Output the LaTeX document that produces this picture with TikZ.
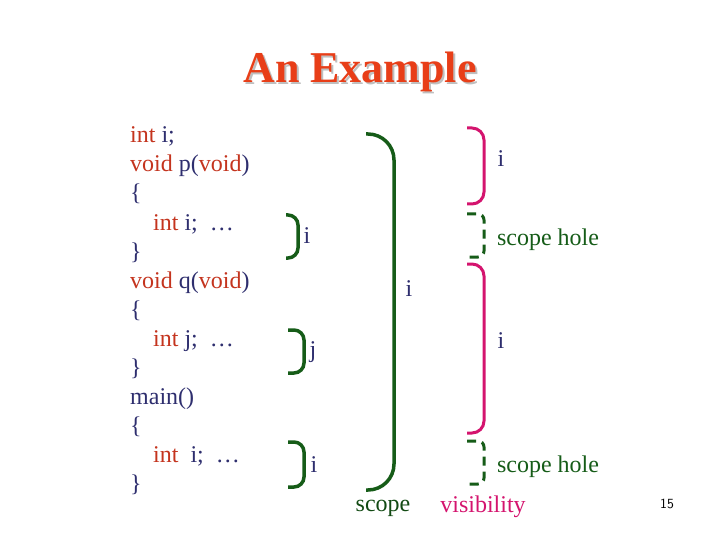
\documentclass[tikz,border=0pt]{standalone}
\usepackage{fontspec}
\setmainfont{Liberation Serif}
\usetikzlibrary{positioning}
\definecolor{titlered}{RGB}{232,62,24}
\definecolor{kwred}{RGB}{196,52,30}
\definecolor{idblue}{RGB}{46,46,110}
\definecolor{scopegreen}{RGB}{22,92,24}
\definecolor{vismagenta}{RGB}{212,20,110}

\begin{document}
\begin{tikzpicture}[
    x=1pt, y=-1pt,
    code/.style = {anchor=base west, inner sep=0pt, text=idblue, font=\fontsize{24}{29}\selectfont},
    lbl/.style = {inner sep=0pt, text=idblue, font=\fontsize{24}{29}\selectfont},
    scopeline/.style = {draw=scopegreen, line width=3.5pt},
    holeline/.style = {draw=scopegreen, line width=3pt, dash pattern=on 9pt off 6pt},
    visline/.style = {draw=vismagenta, line width=3pt, rounded corners=12pt}
  ]
    \useasboundingbox (0,0) rectangle (720,540);

    % title, shadow drawn in the same node
    \node[anchor=base, text=titlered, font=\bfseries\fontsize{44}{50}\selectfont] (title) at (360,83)
      {\rlap{\kern2pt\raisebox{-2pt}{\textcolor{black!25}{An Example}}}An Example};

    % the program
    \node[code] (c1) at (130,143) {\textcolor{kwred}{int} i;};
    \node[code] (c2) at (130,172) {\textcolor{kwred}{void} p(\textcolor{kwred}{void})};
    \node[code] (c3) at (130,201) {\{};
    \node[code] (c4) at (153,230) {\textcolor{kwred}{int} i;\ \ \ldots};
    \node[code] (c5) at (130,259) {\}};
    \node[code] (c6) at (130,288) {\textcolor{kwred}{void} q(\textcolor{kwred}{void})};
    \node[code] (c7) at (130,317) {\{};
    \node[code] (c8) at (153,346) {\textcolor{kwred}{int} j;\ \ \ldots};
    \node[code] (c9) at (130,375) {\}};
    \node[code] (c10) at (130,404) {main()};
    \node[code] (c11) at (130,433) {\{};
    \node[code] (c12) at (153,462) {\textcolor{kwred}{int}\ \ i;\ \ \ldots};
    \node[code] (c13) at (130,491) {\}};

    % scope brackets
    \coordinate (sp-top) at (286,215);
    \coordinate (sp-bot) at (286,258);
    \coordinate (sq-top) at (288,330);
    \coordinate (sq-bot) at (288,373);
    \coordinate (sm-top) at (288,442);
    \coordinate (sm-bot) at (288,487);
    \coordinate (sg-top) at (366,134);
    \coordinate (sg-bot) at (366,490);

    \draw[scopeline, rounded corners=10pt] (sp-top) -- ++(12,0) |- (sp-bot);
    \draw[scopeline, rounded corners=10pt] (sq-top) -- ++(16,0) |- (sq-bot);
    \draw[scopeline, rounded corners=10pt] (sm-top) -- ++(16,0) |- (sm-bot);
    \draw[scopeline, rounded corners=26pt] (sg-top) -- ++(28,0) |- (sg-bot);

    \node[lbl] (ip) at (307,236) {i};
    \node[lbl] (jq) at (313,352) {j};
    \node[lbl] (im) at (314,465) {i};
    \node[lbl] (ig) at (409,289) {i};
    \node[lbl, text=scopegreen!80!black] (scope) at (383,508) {scope};

    % visibility brackets and holes
    \coordinate (v1-top) at (467,128);
    \coordinate (v1-bot) at (467,204);
    \coordinate (h1-top) at (467,214);
    \coordinate (h1-bot) at (467,257);
    \coordinate (v2-top) at (467,264);
    \coordinate (v2-bot) at (467,433);
    \coordinate (h2-top) at (467,441);
    \coordinate (h2-bot) at (467,484);

    \draw[visline] (v1-top) -- ++(17,0) |- (v1-bot);
    \draw[holeline, rounded corners=6pt] (h1-top) -- ++(17,0) |- (h1-bot);
    \draw[visline] (v2-top) -- ++(17,0) |- (v2-bot);
    \draw[holeline, rounded corners=6pt] (h2-top) -- ++(17,0) |- (h2-bot);

    \node[lbl] (iv1) at (501,159) {i};
    \node[lbl, text=scopegreen] (hole1) at (548,240) {scope hole};
    \node[lbl] (iv2) at (501,341) {i};
    \node[lbl, text=scopegreen] (hole2) at (548,467) {scope hole};
    \node[lbl, text=vismagenta] (vis) at (483,507) {visibility};

    \node[inner sep=0pt, font=\sffamily\fontsize{14}{16}\selectfont] (page) at (667,504) {15};
  \end{tikzpicture}
\end{document}
